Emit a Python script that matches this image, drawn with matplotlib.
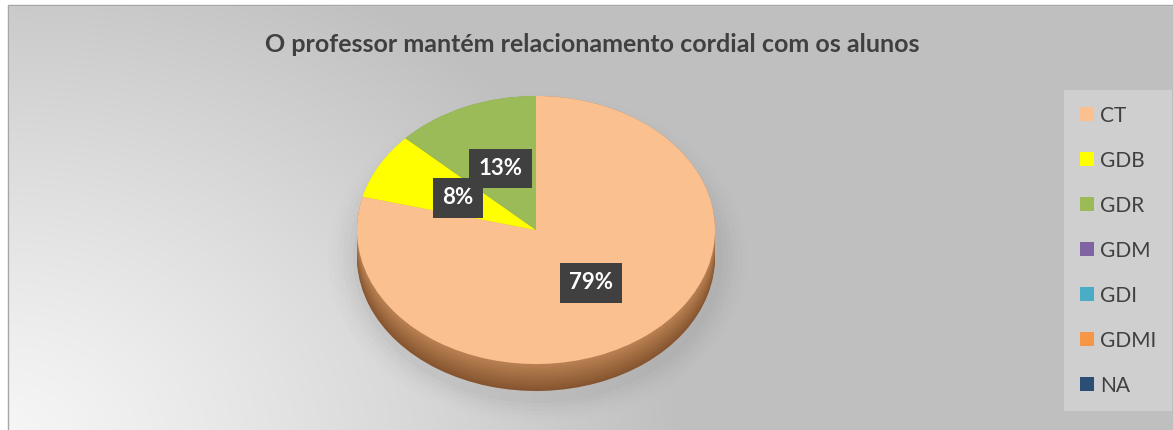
import numpy as np
import matplotlib
matplotlib.use("Agg")
import matplotlib.pyplot as plt
from matplotlib.patches import Patch, Ellipse
from matplotlib.colors import to_rgb

categories = ["CT", "GDB", "GDR", "GDM", "GDI", "GDMI", "NA"]
values = [79, 8, 13, 0, 0, 0, 0]
colors = ["#FAC090", "#FFFF00", "#9BBB59", "#8064A2", "#4BACC6", "#F79646", "#2C4D75"]
side_dark = ["#86552F", "#8F8F00", "#5C7432", "#4A3A62", "#2C6574", "#8E5627", "#182B42"]
side_light = ["#BC8354", "#CFCF00", "#7E9C47", "#67528A", "#3E93A9", "#C8793A", "#253F61"]
title = "O professor mantém relacionamento cordial com os alunos"

W, H = 1173, 430
fig = plt.figure(figsize=(W / 100, H / 100), dpi=100)
plt.rcParams['font.family'] = ['Lato', 'DejaVu Sans']

# background
bg = fig.add_axes([0, 0, 1, 1])
bg.set_xlim(0, W)
bg.set_ylim(H, 0)
bg.axis('off')
yy, xx = np.mgrid[0:H, 0:W]
d = np.hypot(xx - 0, (yy - 440) * 1.3) / 680.0
d = np.clip(d, 0, 1)
v = 0.965 - (0.965 - 0.75) * d ** 1.2
img = np.dstack([v, v, v])
bg.imshow(img, extent=[0, W, H, 0], aspect='auto', zorder=0)
bg.add_patch(plt.Rectangle((0, 0), W, 5, color='white', zorder=1))
bg.add_patch(plt.Rectangle((0, 0), 8, H, color='white', zorder=1))
bg.plot([8, 8, W], [H, 5, 5], color='#A6A6A6', lw=1, zorder=2)
# soft shadow under pie
for i, a in enumerate(np.linspace(0.05, 0.012, 6)):
    bg.add_patch(Ellipse((538, 258), 370 + i * 10, 290 + i * 8, color='#808080',
                         alpha=a, lw=0, zorder=1))

bg.text(592, 45, title, ha='center', va='center', fontsize=18,
        fontweight='bold', color='#404040', zorder=3)

# pie (top face 96..364 px, side down to 391 px)
ry_px = 134.0
depth = 27 / ry_px
ax = fig.add_axes([357 / W, (H - 391) / H, 358 / W, 295 / H])
ax.axis('off')

N = 14
for k in range(N + 1):
    f = k / N
    cols = [tuple(np.array(to_rgb(a)) * (1 - f) + np.array(to_rgb(b)) * f)
            for a, b in zip(side_dark, side_light)]
    ax.pie(values, colors=cols, startangle=90, counterclock=False,
           center=(0, -depth + depth * f), radius=1, wedgeprops=dict(lw=0))
wedges, texts, autotexts = ax.pie(
    values, colors=colors, startangle=90, counterclock=False,
    center=(0, 0), radius=1, wedgeprops=dict(lw=0),
    autopct=lambda p: f"{p:.0f}%" if p > 0 else "", pctdistance=0.5,
    textprops=dict(color='white', fontsize=16, fontweight='bold'))
for t in autotexts:
    t.set_bbox(dict(boxstyle='square,pad=0.42', fc='#404040', ec='none'))
ax.set_xlim(-1, 1)
ax.set_ylim(-1 - depth, 1)
ax.set_aspect('auto')
autotexts[2].set_zorder(autotexts[1].get_zorder() + 1)

handles = [Patch(facecolor=c, edgecolor='none') for c in colors]
leg = fig.legend(handles, categories, loc='upper left',
                 bbox_to_anchor=(1064 / W, 1 - 90 / H), frameon=True,
                 fontsize=15, labelcolor='#404040', handlelength=0.68,
                 handleheight=0.68, labelspacing=1.2, handletextpad=0.3,
                 borderpad=0.75, borderaxespad=0)
leg.get_frame().set_facecolor('#D4D4D4')
leg.get_frame().set_edgecolor('none')
leg.get_frame().set_boxstyle('square', pad=0)

fig.savefig('out.png', dpi=100)
